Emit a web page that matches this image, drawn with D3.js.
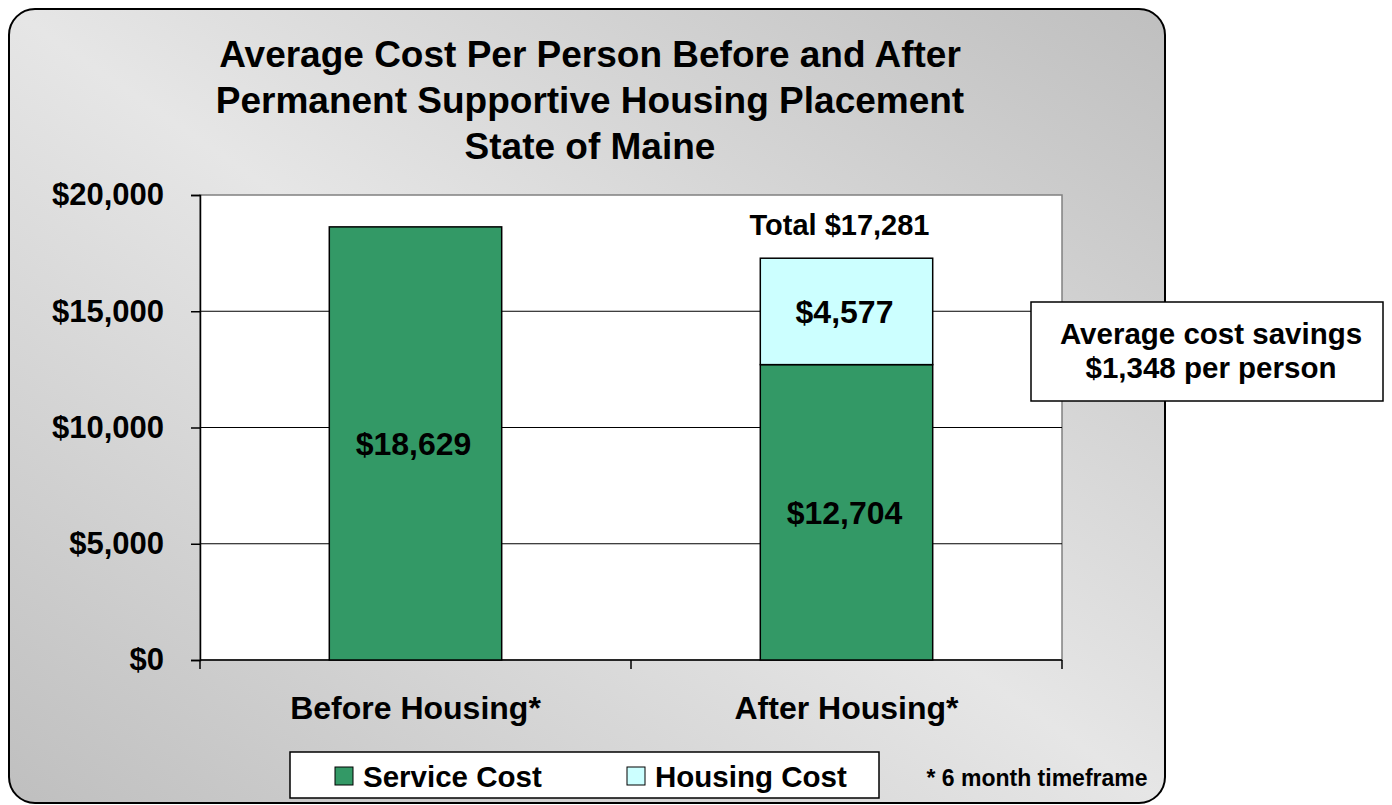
<!DOCTYPE html>
<html>
<head>
<meta charset="utf-8">
<script src="https://cdn.jsdelivr.net/npm/d3@7"></script>
<style>
  body { margin: 0; background: #fff; }
  text { font-family: Arial, "Liberation Sans", sans-serif; font-weight: bold; fill: #000; }
</style>
</head>
<body>
<script>
// chart data
var categories = ["Before Housing*", "After Housing*"];
var serviceCost = [18629, 12704];
var housingCost = [0, 4577];
var totals = [null, 17281];
var seriesNames = ["Service Cost", "Housing Cost"];
var seriesColors = ["#339966", "#ccffff"];
var yTicks = [0, 5000, 10000, 15000, 20000];
var titleLines = ["Average Cost Per Person Before and After", "Permanent Supportive Housing Placement", "State of Maine"];
var noteLines = ["Average cost savings", "$1,348 per person"];
var footnote = "* 6 month timeframe";

var svgWidth = 1392;
var svgHeight = 805;
var plot = {left: 200, top: 195, right: 1062, bottom: 660};

var svg = d3.select("body")
  .append("svg")
  .attr("width", svgWidth)
  .attr("height", svgHeight);

// background panel: dark at bottom-left and top-right, light across the middle
var defs = svg.append("defs");
var grad = defs.append("linearGradient")
  .attr("id", "bg")
  .attr("x1", "0").attr("y1", "1")
  .attr("x2", "1").attr("y2", "0");
grad.append("stop").attr("offset", "0%").attr("stop-color", "#bfbfbf");
grad.append("stop").attr("offset", "50%").attr("stop-color", "#e6e6e6");
grad.append("stop").attr("offset", "100%").attr("stop-color", "#bfbfbf");

svg.append("rect")
  .attr("x", 9).attr("y", 9)
  .attr("width", 1156).attr("height", 794)
  .attr("rx", 26).attr("ry", 26)
  .attr("fill", "url(#bg)")
  .attr("stroke", "#000")
  .attr("stroke-width", 2);

// title
svg.append("g").selectAll("text")
  .data(titleLines)
  .enter()
  .append("text")
  .attr("x", 590)
  .attr("y", (d, i) => 67 + i * 46)
  .attr("text-anchor", "middle")
  .style("font-size", "37px")
  .text(d => d);

var xScale = d3.scaleBand()
  .domain(categories)
  .range([plot.left, plot.right])
  .paddingInner(0)
  .paddingOuter(0);

var yScale = d3.scaleLinear()
  .domain([0, 20000])
  .range([plot.bottom, plot.top]);

var barW = xScale.bandwidth() * 0.4;

// plot area
svg.append("rect")
  .attr("x", plot.left).attr("y", plot.top)
  .attr("width", plot.right - plot.left)
  .attr("height", plot.bottom - plot.top)
  .attr("fill", "#fff")
  .attr("stroke", "#808080")
  .attr("stroke-width", 1.5);

// gridlines
svg.append("g").selectAll("line")
  .data(yTicks.filter(d => d > 0 && d < 20000))
  .enter()
  .append("line")
  .attr("x1", plot.left).attr("x2", plot.right)
  .attr("y1", d => yScale(d)).attr("y2", d => yScale(d))
  .attr("stroke", "#000")
  .attr("stroke-width", 1);

// y axis
var yAxis = d3.axisLeft(yScale)
  .tickValues(yTicks)
  .tickSize(9)
  .tickPadding(27)
  .tickFormat(d => "$" + d3.format(",")(d));

var yg = svg.append("g")
  .attr("transform", `translate(${plot.left},0)`)
  .call(yAxis);
yg.select(".domain").attr("stroke", "#000").attr("stroke-width", 1.5);
yg.selectAll(".tick line").attr("stroke", "#000").attr("stroke-width", 1.5);
yg.selectAll(".tick text")
  .style("font-size", "31px")
  .style("font-family", "Arial, 'Liberation Sans', sans-serif")
  .style("font-weight", "bold")
  .attr("fill", "#000");

// x axis
var xg = svg.append("g")
  .attr("transform", `translate(0,${plot.bottom})`);
xg.append("line")
  .attr("x1", plot.left).attr("x2", plot.right)
  .attr("y1", 0).attr("y2", 0)
  .attr("stroke", "#000").attr("stroke-width", 1.5);
xg.selectAll(".xtick")
  .data([plot.left, xScale(categories[1]), plot.right])
  .enter()
  .append("line")
  .attr("x1", d => d).attr("x2", d => d)
  .attr("y1", 0).attr("y2", 9)
  .attr("stroke", "#000").attr("stroke-width", 1.5);
xg.selectAll("text")
  .data(categories)
  .enter()
  .append("text")
  .attr("x", d => xScale(d) + xScale.bandwidth() / 2)
  .attr("y", 59)
  .attr("text-anchor", "middle")
  .style("font-size", "32px")
  .text(d => d);

// bars
var bars = svg.append("g");
categories.forEach(function(c, i) {
  var x0 = xScale(c) + (xScale.bandwidth() - barW) / 2;
  var parts = [
    {v0: 0, v1: serviceCost[i], color: seriesColors[0], value: serviceCost[i]},
    {v0: serviceCost[i], v1: serviceCost[i] + housingCost[i], color: seriesColors[1], value: housingCost[i]}
  ].filter(p => p.value > 0);
  parts.forEach(function(p) {
    bars.append("rect")
      .attr("x", x0)
      .attr("y", yScale(p.v1))
      .attr("width", barW)
      .attr("height", yScale(p.v0) - yScale(p.v1))
      .attr("fill", p.color)
      .attr("stroke", "#000")
      .attr("stroke-width", 1.5);
    bars.append("text")
      .attr("x", x0 + barW / 2 - 2)
      .attr("y", yScale((p.v0 + p.v1) / 2) + 12)
      .attr("text-anchor", "middle")
      .style("font-size", "32px")
      .text("$" + d3.format(",")(p.value));
  });
  if (totals[i] !== null) {
    bars.append("text")
      .attr("x", x0 + barW / 2 - 7)
      .attr("y", yScale(totals[i]) - 23)
      .attr("text-anchor", "middle")
      .style("font-size", "29px")
      .text("Total $" + d3.format(",")(totals[i]));
  }
});

// savings callout
svg.append("rect")
  .attr("x", 1031).attr("y", 302)
  .attr("width", 352).attr("height", 99)
  .attr("fill", "#fff")
  .attr("stroke", "#000")
  .attr("stroke-width", 1.5);
svg.append("g").selectAll("text")
  .data(noteLines)
  .enter()
  .append("text")
  .attr("x", 1211)
  .attr("y", (d, i) => 344 + i * 34)
  .attr("text-anchor", "middle")
  .style("font-size", "29.5px")
  .text(d => d);

// legend
var legend = svg.append("g");
legend.append("rect")
  .attr("x", 290).attr("y", 752)
  .attr("width", 589).attr("height", 46)
  .attr("fill", "#fff")
  .attr("stroke", "#000")
  .attr("stroke-width", 1.5);
var legX = [335, 627];
seriesNames.forEach(function(s, i) {
  legend.append("rect")
    .attr("x", legX[i]).attr("y", 767)
    .attr("width", 18).attr("height", 18)
    .attr("fill", seriesColors[i])
    .attr("stroke", "#000")
    .attr("stroke-width", 1);
  legend.append("text")
    .attr("x", legX[i] + 28)
    .attr("y", 787)
    .style("font-size", "29.5px")
    .text(s);
});

svg.append("text")
  .attr("x", 1037)
  .attr("y", 786)
  .attr("text-anchor", "middle")
  .style("font-size", "23px")
  .text(footnote);
</script>
</body>
</html>
